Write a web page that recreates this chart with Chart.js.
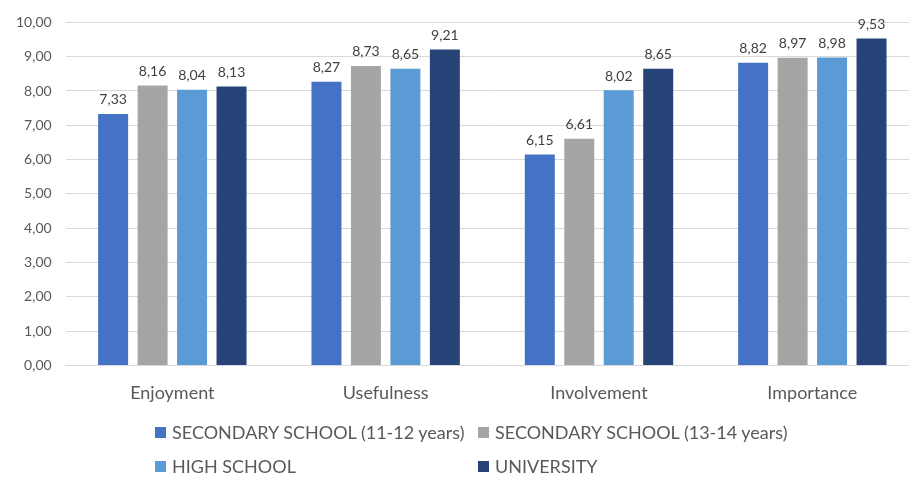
<!DOCTYPE HTML>
<html>

<head>
    <title>Survey scores</title>
    <script src="https://cdn.jsdelivr.net/npm/chart.js@4.4.1/dist/chart.umd.min.js"></script>
    <style>
        html,
        body {
            margin: 0;
            padding: 0;
            background: #fff;
            overflow: hidden;
            font-family: Lato, "Open Sans", sans-serif;
        }

        #wrap {
            position: relative;
            width: 909px;
            height: 477px;
            overflow: hidden;
        }

        #legend {
            position: absolute;
            left: 155px;
            top: 420px;
            display: grid;
            grid-template-columns: 323px 330px;
            row-gap: 10px;
            color: #595959;
            font-size: 18px;
        }

        #legend div {
            display: flex;
            align-items: center;
            height: 24px;
            white-space: nowrap;
        }

        #legend span.box {
            width: 11px;
            height: 11px;
            margin-right: 6px;
            display: inline-block;
        }
    </style>
</head>

<body>
    <div id="wrap">
        <canvas id="chart" width="927" height="477"></canvas>
        <div id="legend"></div>
    </div>
    <script>
        const categories = ['Enjoyment', 'Usefulness', 'Involvement', 'Importance'];
        const seriesNames = [
            'SECONDARY SCHOOL (11-12 years)',
            'SECONDARY SCHOOL (13-14 years)',
            'HIGH SCHOOL',
            'UNIVERSITY'
        ];
        const secondary1112 = [7.33, 8.27, 6.15, 8.82];
        const secondary1314 = [8.16, 8.73, 6.61, 8.97];
        const highSchool = [8.04, 8.65, 8.02, 8.98];
        const university = [8.13, 9.21, 8.65, 9.53];
        const colors = ['#4472C4', '#A5A5A5', '#5B9BD5', '#264478'];

        const fmt = v => v.toFixed(2).replace('.', ',');

        // value labels above each bar
        const barLabels = {
            id: 'barLabels',
            afterDatasetsDraw(chart) {
                const ctx = chart.ctx;
                ctx.save();
                ctx.font = '14px Lato, "Open Sans", sans-serif';
                ctx.fillStyle = '#404040';
                ctx.textAlign = 'center';
                ctx.textBaseline = 'bottom';
                chart.data.datasets.forEach((ds, i) => {
                    chart.getDatasetMeta(i).data.forEach((bar, j) => {
                        ctx.fillText(fmt(ds.data[j]), bar.x, bar.y - 7);
                    });
                });
                ctx.restore();
            }
        };

        const allSeries = [secondary1112, secondary1314, highSchool, university];

        const c = new Chart(document.getElementById('chart'), {
            type: 'bar',
            data: {
                labels: categories,
                datasets: allSeries.map((d, i) => ({
                    label: seriesNames[i],
                    data: d,
                    backgroundColor: colors[i],
                    categoryPercentage: 0.74,
                    barPercentage: 0.76
                }))
            },
            options: {
                responsive: false,
                animation: false,
                layout: { padding: { top: 12, left: 2, right: 8, bottom: 56 } },
                plugins: {
                    legend: { display: false },
                    tooltip: { enabled: false }
                },
                scales: {
                    x: {
                        grid: { display: false, drawTicks: false },
                        border: { color: '#d9d9d9' },
                        ticks: {
                            color: '#595959',
                            padding: 17,
                            font: { size: 18, family: 'Lato, "Open Sans", sans-serif' }
                        }
                    },
                    y: {
                        min: 0,
                        max: 10,
                        grid: { color: '#d9d9d9', drawTicks: false },
                        border: { display: false },
                        ticks: {
                            stepSize: 1,
                            color: '#595959',
                            padding: 14,
                            font: { size: 14, family: 'Lato, "Open Sans", sans-serif' },
                            callback: v => fmt(v)
                        }
                    }
                }
            },
            plugins: [barLabels]
        });

        const legend = document.getElementById('legend');
        seriesNames.forEach((name, i) => {
            const item = document.createElement('div');
            item.innerHTML = '<span class="box" style="background:' + colors[i] + '"></span>' + name;
            legend.appendChild(item);
        });
    </script>
</body>

</html>
